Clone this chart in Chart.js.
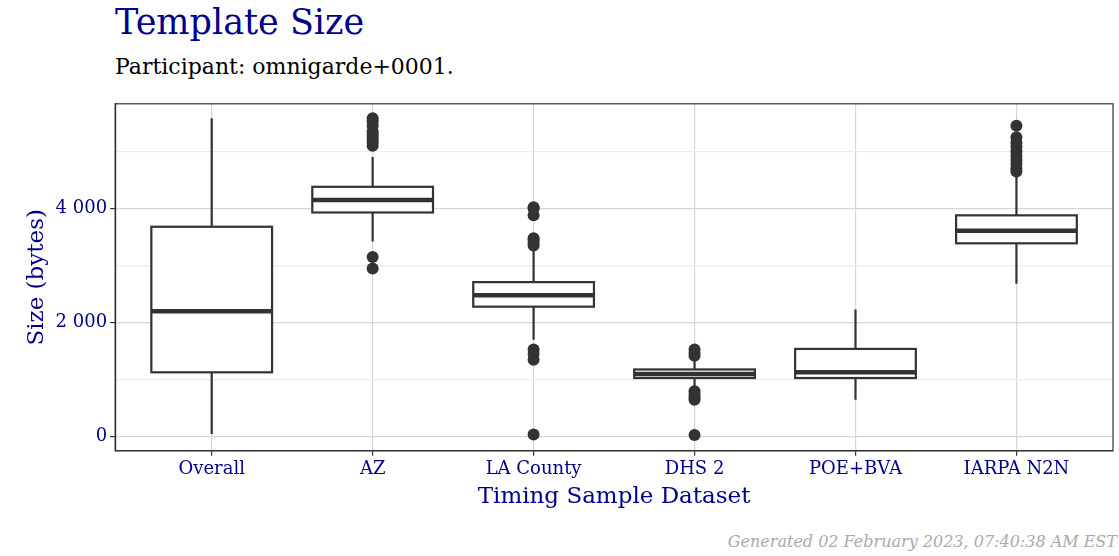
<!DOCTYPE html>
<html><head><meta charset="utf-8">
<script src="https://cdn.jsdelivr.net/npm/chart.js@4"></script>
<style>
body{margin:0;background:#fff;font-family:"DejaVu Serif",serif;}
#wrap{position:relative;width:1119px;height:556px;}
#title{position:absolute;left:115px;top:2px;font-size:35px;color:#00008B;}
#sub{position:absolute;left:115px;top:54px;font-size:22px;color:#000;}
#foot{position:absolute;right:2px;top:532px;font-size:16px;color:#aaa;font-style:italic;}
canvas{position:absolute;left:0;top:90px;}
</style></head><body>
<div id="wrap">
<div id="title">Template Size</div>
<div id="sub">Participant: omnigarde+0001.</div>
<canvas id="c" width="1119" height="440"></canvas>
<div id="foot">Generated 02 February 2023, 07:40:38 AM EST</div>
</div>
<script>
const categories = ['Overall','AZ','LA County','DHS 2','POE+BVA','IARPA N2N'];
const whiskerLow  = [50, 3420, 1700, 850, 650, 2680];
const q1Values    = [1130, 3930, 2280, 1030, 1030, 3390];
const medians     = [2200, 4150, 2480, 1100, 1130, 3610];
const q3Values    = [3680, 4380, 2710, 1180, 1540, 3880];
const whiskerHigh = [5580, 4900, 3280, 1380, 2230, 4600];
const outlierCat  = [2,2,2,2,2,2,2,2,2,2,2, 3,3,3,3,3,3,3,3,3,3,3, 4,4,4,4,4,4,4,4, 6,6,6,6,6,6,6,6,6,6];
const outlierVal  = [5100,5150,5200,5250,5300,5350,5450,5530,5580,3150,2950,
                     3350,3400,3450,3480,3880,4000,4020,1530,1450,1350,40,
                     1420,1470,1530,800,740,690,650,30,
                     4650,4700,4780,4850,4920,5000,5080,5150,5250,5450];

const boxPlugin = {
  id: 'boxes',
  beforeDatasetsDraw(chart) {
    const {ctx, scales: {x, y}} = chart;
    ctx.save();
    ctx.strokeStyle = '#333';
    categories.forEach((c, i) => {
      const cx = x.getPixelForValue(i + 1);
      const half = (x.getPixelForValue(1.375) - x.getPixelForValue(1));
      const yq1 = y.getPixelForValue(q1Values[i]), yq3 = y.getPixelForValue(q3Values[i]);
      ctx.lineWidth = 2.2;
      ctx.beginPath();
      ctx.moveTo(cx, y.getPixelForValue(whiskerLow[i])); ctx.lineTo(cx, yq1);
      ctx.moveTo(cx, yq3); ctx.lineTo(cx, y.getPixelForValue(whiskerHigh[i]));
      ctx.stroke();
      ctx.fillStyle = '#fff';
      ctx.fillRect(cx - half, yq3, half * 2, yq1 - yq3);
      ctx.strokeRect(cx - half, yq3, half * 2, yq1 - yq3);
      ctx.lineWidth = 4.5;
      ctx.beginPath();
      const ym = y.getPixelForValue(medians[i]);
      ctx.moveTo(cx - half, ym); ctx.lineTo(cx + half, ym);
      ctx.stroke();
    });
    ctx.restore();
  },
  afterDatasetsDraw(chart) {
    const {ctx, chartArea: a} = chart;
    ctx.save();
    ctx.strokeStyle = '#333';
    ctx.lineWidth = 1.2;
    ctx.strokeRect(a.left, a.top, a.right - a.left, a.bottom - a.top);
    ctx.restore();
  }
};

new Chart(document.getElementById('c'), {
  type: 'scatter',
  data: {
    datasets: [{
      data: outlierCat.map((c, i) => ({x: c, y: outlierVal[i]})),
      pointRadius: 6, pointBackgroundColor: '#333', pointBorderColor: '#333', pointBorderWidth: 0
    }]
  },
  plugins: [boxPlugin],
  options: {
    responsive: false, animation: false,
    layout: {padding: {left: 19, right: 0, top: 10, bottom: 15}},
    plugins: {legend: {display: false}, tooltip: {enabled: false}},
    scales: {
      x: {
        type: 'linear', min: 0.4, max: 6.6,
        afterBuildTicks: s => { s.ticks = categories.map((c, i) => ({value: i + 1})); },
        ticks: {color: '#00008B', font: {family: 'DejaVu Serif', size: 18}, padding: 3,
                callback: v => categories[v - 1]},
        grid: {color: '#d6d6d6', lineWidth: 1.2, tickLength: 5, tickColor: '#333'},
        border: {color: '#333', width: 1.2},
        title: {display: true, text: 'Timing Sample Dataset', color: '#00008B',
                font: {family: 'DejaVu Serif', size: 23}, padding: {top: 0}}
      },
      y: {
        min: -245, max: 5834,
        afterBuildTicks: s => { s.ticks = [0,1000,2000,3000,4000,5000].map(v => ({value: v})); },
        ticks: {color: '#00008B', font: {family: 'DejaVu Serif', size: 18},
                callback: v => v % 2000 === 0 ? (v === 0 ? '0' : String(v).replace(/(\d)(\d{3})$/, '$1 $2')) : ''},
        grid: {color: ctx => ctx.tick && ctx.tick.value % 2000 === 0 ? '#d6d6d6' : '#ececec', lineWidth: 1.2,
               tickLength: 5, tickColor: ctx => ctx.tick && ctx.tick.value % 2000 === 0 ? '#333' : 'rgba(0,0,0,0)'},
        border: {color: '#333', width: 1.2},
        title: {display: true, text: 'Size (bytes)', color: '#00008B',
                font: {family: 'DejaVu Serif', size: 23}, padding: {bottom: 2}}
      }
    }
  }
});
</script>
</body></html>
